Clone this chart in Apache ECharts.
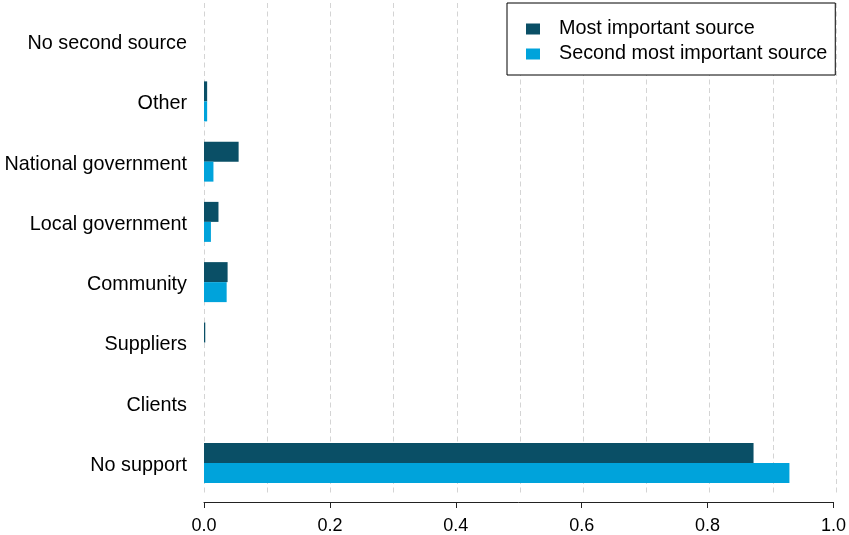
<!DOCTYPE html>
<html>
<head>
<meta charset="utf-8">
<script src="https://cdn.jsdelivr.net/npm/echarts@6/dist/echarts.min.js"></script>
<style>
  html, body { margin: 0; padding: 0; background: #fff; }
  #chart { width: 849px; height: 535px; }
</style>
</head>
<body>
<div id="chart"></div>
<script>
// Sources of support, top to bottom
const categories = [
  'No second source', 'Other', 'National government', 'Local government',
  'Community', 'Suppliers', 'Clients', 'No support'
];
// Share of respondents naming each source
const mostImportant   = [0, 0.005, 0.055, 0.023, 0.0375, 0.002, 0, 0.873];
const secondImportant = [0, 0.005, 0.015, 0.011, 0.036, 0, 0, 0.930];
const seriesNames = ['Most important source', 'Second most important source'];
const xTicks = [0, 0.2, 0.4, 0.6, 0.8, 1.0];

const FONT = 'Liberation Sans, Arial, sans-serif';
const DARK = '#0a4f66';
const LIGHT = '#00a3db';
const gridDash = { color: '#d4d4d4', width: 1, type: [5, 3.5] };

const chart = echarts.init(document.getElementById('chart'), null, { renderer: 'canvas' });

chart.setOption({
  animation: false,
  backgroundColor: '#ffffff',
  grid: [
    // background grid carrying the dashed reference lines
    { left: 204, right: 13, top: 3, bottom: 40, containLabel: false },
    // plotting grid for the bars
    { left: 204, right: 13, top: 11, bottom: 42, containLabel: false }
  ],
  legend: {
    data: seriesNames,
    orient: 'vertical',
    left: 507,
    top: 3,
    padding: [16, 8, 11, 19],
    itemGap: 5,
    itemWidth: 14,
    itemHeight: 11,
    icon: 'rect',
    borderColor: '#000',
    borderWidth: 1,
    borderRadius: 0,
    backgroundColor: '#fff',
    textStyle: {
      fontFamily: FONT, fontSize: 19.8, color: '#000',
      lineHeight: 20, padding: [0, 0, 0, 14]
    },
    selectedMode: false
  },
  xAxis: [
    {
      gridIndex: 0, type: 'value', min: 0, max: 1, interval: 0.2,
      axisLine: { show: false }, axisTick: { show: false }, axisLabel: { show: false },
      splitLine: { show: true, lineStyle: gridDash },
      minorTick: { show: false, splitNumber: 2 },
      minorSplitLine: { show: true, lineStyle: gridDash }
    },
    {
      gridIndex: 1, type: 'value', min: 0, max: 1, interval: 0.2, offset: 9,
      axisLine: { show: true, lineStyle: { color: '#222', width: 1 } },
      axisTick: { show: true, length: 6, lineStyle: { color: '#222' } },
      axisLabel: {
        fontFamily: FONT, fontSize: 18, color: '#000', margin: 15,
        formatter: v => {
          const t = xTicks.find(x => Math.abs(x - v) < 1e-9);
          return t === undefined ? '' : t.toFixed(1);
        }
      },
      splitLine: { show: false }
    }
  ],
  yAxis: [
    {
      gridIndex: 0, type: 'value', min: 0, max: 1, show: false
    },
    {
      gridIndex: 1, type: 'category', data: categories, inverse: true,
      axisLine: { show: false }, axisTick: { show: false },
      axisLabel: {
        margin: 17,
        formatter: v => '{c|' + v + '}',
        rich: {
          c: { fontFamily: FONT, fontSize: 19.8, color: '#000', padding: [5, 0, 0, 0] }
        }
      },
      splitLine: { show: false }
    }
  ],
  series: [
    {
      name: seriesNames[0], type: 'bar', xAxisIndex: 1, yAxisIndex: 1,
      data: mostImportant, barWidth: 20, barGap: '0%',
      itemStyle: { color: DARK }
    },
    {
      name: seriesNames[1], type: 'bar', xAxisIndex: 1, yAxisIndex: 1,
      data: secondImportant, barWidth: 20, barGap: '0%',
      itemStyle: { color: LIGHT }
    }
  ]
});
</script>
</body>
</html>
